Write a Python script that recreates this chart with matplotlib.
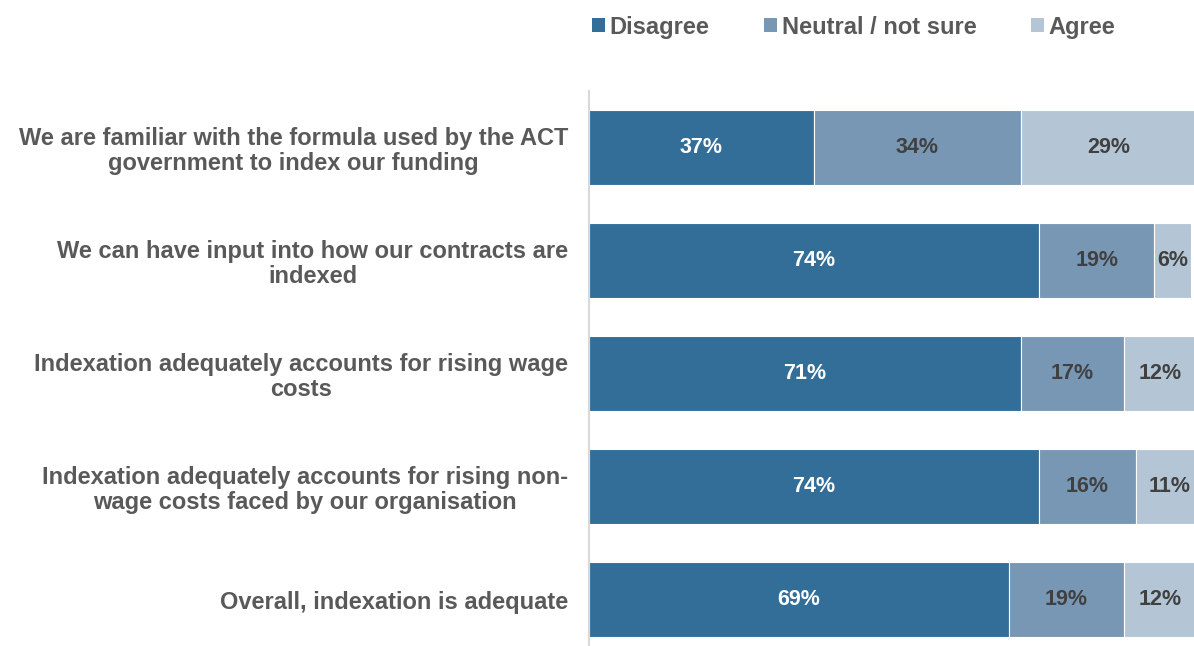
import matplotlib
matplotlib.use("Agg")
import matplotlib.pyplot as plt
from matplotlib.patches import Patch

categories = [
    "We are familiar with the formula used by the ACT\ngovernment to index our funding",
    "We can have input into how our contracts are\nindexed",
    "Indexation adequately accounts for rising wage\ncosts",
    "Indexation adequately accounts for rising non-\nwage costs faced by our organisation",
    "Overall, indexation is adequate",
]
series_names = ["Disagree", "Neutral / not sure", "Agree"]
disagree = [37, 74, 71, 74, 69]
neutral = [34, 19, 17, 16, 19]
agree = [29, 6, 12, 11, 12]

colors = ["#336e99", "#7897b4", "#b4c6d6"]
label_colors = ["white", "#404040", "#404040"]

plt.rcParams['font.family'] = ['Liberation Sans', 'DejaVu Sans']

fig = plt.figure(figsize=(11.94, 6.46), dpi=100)
ax = fig.add_axes([589/1194, -10/646, 608/1194, 565/646])

ypos = list(range(len(categories)))
left = [0]*len(categories)
for vals, col, lc in zip([disagree, neutral, agree], colors, label_colors):
    ax.barh(ypos, vals, left=left, height=0.66, color=col,
            edgecolor="white", linewidth=0.8)
    for y, v, l in zip(ypos, vals, left):
        ax.text(l + v/2, y, f"{v}%", ha="center", va="center",
                color=lc, fontsize=15.5, fontweight="bold")
    left = [a+b for a, b in zip(left, vals)]

ax.set_xlim(0, 100)
ax.set_ylim(len(categories)-0.5, -0.5)
ax.set_yticks(ypos)
ax.set_yticklabels(categories, fontsize=17, fontweight="bold",
                   color="#595959", multialignment="center", linespacing=1.1)
ax.tick_params(axis="y", length=0, pad=15)
ax.set_xticks([])
for s in ["top", "right", "bottom"]:
    ax.spines[s].set_visible(False)
ax.spines["left"].set_color("#d9d9d9")
ax.spines["left"].set_linewidth(1.5)

handles = [Patch(facecolor=c, edgecolor="none") for c in colors]
leg = fig.legend(handles, series_names, loc="center", bbox_to_anchor=(0.715, 0.958),
                 ncol=3, frameon=False, handlelength=0.55, handleheight=0.55,
                 handletextpad=0.2, columnspacing=2.3,
                 prop={"size": 17, "weight": "bold"})
for t in leg.get_texts():
    t.set_color("#595959")

fig.savefig("out.png", dpi=100)
